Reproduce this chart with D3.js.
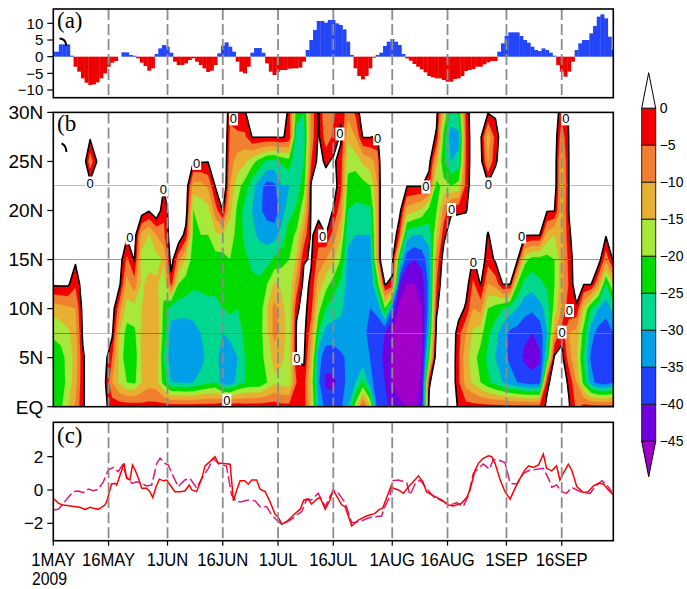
<!DOCTYPE html>
<html><head><meta charset="utf-8">
<script src="https://cdn.jsdelivr.net/npm/d3@7"></script>
<style>
body{margin:0;background:#fff}
text{font-family:"Liberation Sans",Arial,sans-serif;fill:#000}
.serif{font-family:"Liberation Serif","Times New Roman",serif}
</style></head><body>
<svg id="chart" width="687" height="589"></svg>
<script>
// ---------------- data ----------------
// days counted from 1 May 2009
const tickDays   = [0, 15, 31, 46, 61, 76, 92, 107, 123, 138];
const tickLabels = ["1MAY","16MAY","1JUN","16JUN","1JUL","16JUL","1AUG","16AUG","1SEP","16SEP"];

// (a) daily index, 1 May .. 30 Sep
const indexA = [
  1.5, 1.5, 3.7, 3.7, 3.7, 0.3, -3, -4.5, -6.5, -7.8,
  -8.5, -8.3, -7.7, -6.5, -5, -3, -1.8, -1.3, 0, 1.3,
  1.3, 0.5, 0.3, -0.5, -1.8, -2.8, -4.2, -3.5, 0.8, 2.5,
  3.5, 3, 1.2, -1.5, -2.5, -2.5, -2, -1, -0.5, -1.5,
  -2.5, -3.5, -4.6, -4.2, -2.5, 1, 3.3, 4.3, 3, 1.5,
  -1.5, -4.5, -5, -3, 1.2, 2.6, 2.6, 1.2, -2, -4.5,
  -5.5, -4.5, -4, -4, -3.6, -3.5, -3.5, -3.3, -1.5, 2,
  5, 8, 10.7, 10.7, 10.2, 11, 11, 10, 9.5, 8.2,
  4.5, 0.5, -3.5, -5.8, -6.8, -5.8, -3.5, -0.3, 0.5, 1.2,
  3.2, 4.5, 5.3, 4.5, 3.5, 0.8, -0.5, -1.2, -2.2, -3,
  -3.8, -4.7, -5.8, -6.2, -6.5, -6.5, -7, -7.5, -7.5, -6.7,
  -6.5, -5.8, -4.3, -4, -3.7, -3, -3, -2.3, -1.7, -1.3,
  -1.3, 1.5, 4, 6.3, 7.3, 7.3, 7.3, 6.2, 5, 4.2,
  3, 2, 1.7, 2.5, 2, 1.2, 0.3, -2.5, -4.5, -6,
  -4.5, -1.5, 2, 4, 5, 5, 7, 9.2, 12, 12.7,
  11.5, 6, 2
];

// (b) time-latitude anomaly field: one row per day, columns are latitudes
const fieldDays = [0,2,4,6,8,10,12,14,16,18,20,22,24,26,28,30,32,34,36,38,40,42,44,46,48,50,
  52,54,56,58,60,62,64,66,68,70,72,74,76,78,80,82,84,86,88,90,92,94,96,98,100,102,104,106,
  108,110,112,114,116,118,120,122,124,126,128,130,132,134,136,138,140,142,144,146,148,150,152];
const fieldLats = [0,2.5,5,7.5,10,12.5,15,17.5,20,22.5,25,27.5,30];
const field = [
  [-21,-23,-23,-19,-13,1,4,5,5,5,5,5,5],
  [-21,-23,-22,-18,-12,1,4,5,5,5,5,5,5],
  [-15,-18,-18,-16,-11,1,3,5,5,5,5,5,5],
  [-9,-12,-13,-12,-10,-4,1,5,5,5,5,5,5],
  [-1,-1,-1,1,2,3,3,5,5,5,5,5,5],
  [4,4,4,4,4,4,4,4,4,2.5,-8,1,4],
  [3,3,3,4,4,4,4,4,4,4,1,4,4],
  [1,1,2,3,4,4,4,4,4,4,4,4,4],
  [-2,-10,-5,1,3,4,4,4,4,4,4,4,4],
  [-2,-16,-17,-15,-8,1,3,4,4,4,4,4,4],
  [-2,-20,-23,-22,-17,-12,-6,1,4,4,4,4,4],
  [-2,-21,-23,-21,-17,-7,0.5,3,4,4,4,4,4],
  [-3,-15,-14,-14,-15,-16,-17,-12,3,4,4,4,4],
  [-3,-12,-11,-11,-12,-13,-17,-15,0.5,3,4,4,4],
  [-3,-13,-11,-11,-12,-14,-17,-10,5,4,4,4,4],
  [-2,-22,-25,-22,-21,-18,-14,-6,-4,0.5,3,4,4],
  [-2,-30,-33,-32,-28,-3,3,4,4,4,4,4,4],
  [-2,-30,-34,-33,-28,-20,-8,4,4,4,4,4,4],
  [-2,-31,-34,-33,-28,-22,-16,-2,3,4,4,4,4],
  [-2,-30,-33,-32,-28,-24,-22,-21,-20,-12,0.5,3,4],
  [-2,-28,-32,-30,-27,-24,-22,-20,-18,-12,0.5,3,4],
  [-2,-26,-28,-28,-26,-24,-22,-20,-17,-9,0.2,3,4],
  [-2,-25,-28,-28,-26,-24,-22,-16,-7,0.5,3,4,4],
  [0.3,-33,-33,-30,-25,-24,-22,-15,0.3,8,8,8,8],
  [-1,-33,-34,-28,-24,-22,-20,-17,-14,-10,-8,-6,-4],
  [-1,-28,-30,-27,-25,-24,-23,-22,-21,-18,-12,-6,-2],
  [-2,-25,-25,-24,-23,-23,-24,-26,-27,-22,-14,-6,-0.5],
  [-2,-24,-23,-23,-23,-24,-26,-29,-30,-28,-18,0.3,4],
  [-2,-24,-22,-22,-23,-24,-27,-31,-34,-33,-22,0.3,4],
  [-2,-20,-18,-16,-15,-20,-27,-32,-37,-37,-26,0.3,4],
  [-2,-16,-13,-8,-8,-14,-24,-32,-38,-36,-27,0.3,4],
  [-3,-17,-14,-12,-13,-16,-22,-28,-32,-30,-24,0.5,6],
  [-3,-18,-17,-18,-18,-19,-20,-22,-27,-30,-22,-1,-2],
  [-3,-5,0.5,1,-1,-8,-14,-19,-24,-28,-30,-28,-22],
  [-2,-2,1,2,2,2,-0.5,-8,-16,-22,-25,-27,-25],
  [-14,-16,-12,-8,-3,-1,0.5,1,1,1,-5,-8,-8],
  [-30,-34,-33,-25,-18,-12,-7,-3,2,3,2,1,0.5],
  [-37,-41,-38,-32,-25,-18,-10,0,3,3,-1,-8,-10],
  [-38,-41,-38,-32,-28,-22,-14,-7,-0.3,3,1,-4,-6],
  [-36,-38,-36,-32,-29,-26,-20,-14,-8,-3,-2,1,-1],
  [-30,-33,-34,-33,-32,-32,-31,-29,-25,-22,-18,-14,-8],
  [-18,-30,-33,-33,-33,-33,-32,-30,-26,-23,-18,-10,-4],
  [-3,-24,-33,-34,-34,-33,-32,-30,-26,-22,-14,0.3,4],
  [-14,-33,-35,-36,-35,-34,-33,-30,-26,-20,-12,0.3,6],
  [-37,-38,-38,-37,-34,-22,-10,-10,-10,-10,-8,-1,10],
  [-38,-40,-41,-40,-20,0.3,18,18,18,18,18,18,18],
  [-42,-45,-46,-45,-35,-1,2,6,8,8,8,8,8],
  [-44,-47,-48,-48,-47,-40,-25,-5,2,4,4,4,4],
  [-45,-48,-49,-49,-48,-45,-38,-28,-12,0.2,4,4,4],
  [-46,-48,-49,-49,-48,-45,-40,-30,-14,0.2,4,4,4],
  [-42,-44,-45,-46,-45,-43,-38,-30,-16,0.2,4,4,4],
  [2.2,-1,-20,-28,-32,-33,-32,-28,-22,-3,2,4,4],
  [5,5,5,2,-1,-5,-8,-15,-20,-22,-12,-1,2],
  [5,5,5,5,5,5,3,-1.5,-8,-18,-24,-22,-15],
  [5,5,5,5,5,5,5,4,-1,-20,-30,-33,-26],
  [-1,-4,-4,-3,3,5,5,5,-1,-18,-28,-32,-24],
  [-3,-12,-13,-10,-1,3,4,5,-0.5,-3,-4,-4,-3],
  [-3,-16,-18,-16,-10,-6,-0.5,4,4,4,4,4,4],
  [-3,-20,-22,-18,-8,0.5,4,4,4,4,2,1,4],
  [-3,-24,-26,-24,-20,-10,-3,-0.5,4,1.5,-10,-13,0.5],
  [-3,-27,-30,-28,-22,-8,1,4,4,4,-1,-3,1],
  [-3,-30,-33,-33,-25,0.2,4,4,4,4,4,4,4],
  [-3,-33,-36,-36,-28,0.2,4,4,4,4,4,4,4],
  [-3,-35,-38,-37,-30,-20,0.5,4,4,4,4,4,4],
  [-3,-37,-41,-39,-33,-27,-18,0.3,4,4,4,4,4],
  [-3,-38,-42,-40,-34,-28,-22,0.3,4,4,4,4,4],
  [-3,-37,-41,-38,-32,-26,-22,0.3,4,4,4,4,4],
  [1,-1,-25,-30,-28,-24,-22,-12,0.5,4,4,4,4],
  [3,2,1,-10,-18,-20,-20,-15,0.3,4,4,4,4],
  [3,3,2,-2,-10,-12,-12,-12,-12,-13,-12,-8,-3],
  [0.5,-1,-8,-10,-1,-4,-3,-1,0.5,0.5,0.5,0.5,0.5],
  [-6,-10,-14,-12,-1,4,4,4,4,4,4,4,4],
  [-3,-22,-25,-22,-15,0.3,4,4,4,4,4,4,4],
  [-3,-33,-36,-33,-25,0.3,4,4,4,4,4,4,4],
  [-3,-37,-39,-37,-30,-10,3,4,4,4,4,4,4],
  [-3,-38,-40,-38,-33,-25,-8,0.5,4,4,4,4,4],
  [-3,-35,-38,-35,-28,-15,1,4,4,4,4,4,4]
];
const levelValues = [0,-5,-10,-15,-20,-25,-30,-35,-40,-45];
const levelColors = ["#f00000","#f08030","#e8b030","#a8e83a","#00dc00","#00d890","#00a0e8","#2040ff","#7000e0","#a000c8"];
// positions of the "0" contour labels
const zeroLabelDays = [10, 20.8, 29.9, 38.9, 48.9, 47.1, 66.1, 73.1, 77.8, 88, 101.1, 108.1, 118.1, 114, 127.1, 139.1, 140.1, 138.1];
const zeroLabelLats = [22.8, 17.2, 22.1, 24.8, 29.7, 0.3, 4.9, 17.4, 27.8, 27.3, 22.4, 20.1, 22.7, 14.7, 17.3, 29.5, 9.8, 7.6];
const refLats = [7.5, 15, 22.5];

// (c) two indices
const solidDays = [0,1.4,2.7,7.2,8.6,10,10.9,12.2,14,14.5,15.8,16.7,17.2,18.6,19.2,19.9,20.8,21.5,22.2,23.1,24,25.3,26.2,27,27.9,28.8,29.9,30.8,31.7,33,34.4,35.7,36.9,37.6,38.9,40.3,41.2,42.5,43.9,44.8,45.7,48,48.9,49.8,50.7,52,52.9,53.9,55.2,56.1,57.5,58.8,60.2,61.1,62,63.3,65.2,67,68,69.2,70.1,71.5,72.4,73.8,75.1,76,77,78.3,79.2,81,82.8,85,87.3,88.5,89.4,90.5,91.8,92.3,93.7,95,96.4,97.7,99.1,100.3,101.3,103.2,105.4,107.2,108.6,110.8,112.2,113.1,114.5,115.4,116.7,118.1,119,119.9,121.3,122.6,124,125.3,126.7,128,129,130.3,131.7,133,133.9,135.3,136.6,137.5,138.4,139.8,140.7,142.1,143.9,145.2,146.6,148,149.3,150.7,152];
const solidVals = [-0.5,-0.8,-0.9,-1.04,-1.16,-1.04,-1.1,-1.16,-0.9,-0.7,0.36,0.4,0.3,1.2,1.6,0.7,0.6,1.5,1.2,0.7,0.1,0.1,-0.1,-0.45,0.2,0.65,0.55,0.6,0.3,-0.1,-0.1,-0.06,0.3,0,-0.1,0.7,1.45,1.7,2.0,1.6,1.6,1.55,-0.65,0,0.55,0.55,0.35,0.6,0.6,0.05,-0.1,-0.7,-1.45,-1.65,-2.05,-1.9,-1.5,-1.15,-0.6,-0.55,-0.85,-0.55,-0.45,-1.15,-0.6,0,-0.4,-0.9,-1.0,-2.16,-1.8,-1.56,-1.4,-1.16,-1.1,-0.45,0.3,0.1,0,-0.2,0.2,0.5,0.85,0.5,-0.1,-0.35,-0.6,-0.9,-0.96,-0.8,-0.45,0,1.2,1.6,1.9,2.05,2.0,1.6,0.6,-0.1,-0.55,0.1,0.7,1.2,1.45,1.35,1.5,2.15,1.3,1.15,1.45,0.6,1.0,1.55,1.2,0.2,-0.15,-0.1,0.25,0.4,0.36,0,-0.3];
const dashDays = [0,1.4,2.7,4.1,5.4,6.8,8.1,9.5,10.9,12.2,13.6,14.9,16.3,17.6,18.8,19.9,21.3,22.6,24,25.3,26.7,28.1,29,30.3,31.2,32.6,33.9,35.7,37.1,38.9,40.3,42.1,43.4,45.2,47,48.4,49.8,51.1,52.9,54.8,56.1,57.9,59.3,60.6,62,64.3,66.1,67.4,68.8,70.1,71.9,73.8,75.1,76,77.4,79.2,81,83.2,86,89.1,90,91.4,92.1,93.7,95.9,96.8,98.2,99.5,101.3,103.2,105.9,107.7,109.5,111.3,112.7,114,115.4,116.7,118.4,119.4,120.8,122.6,124,125.8,127.6,129.4,131.2,133,134.4,135.3,136.6,138,139.3,140.7,142.1,143.9,145.7,147,148.9,150.2,151.6];
const dashVals = [-1.2,-1.16,-0.8,-0.44,-0.1,-0.06,-0.16,0.06,-0.04,0.04,0.5,1.2,1.36,1.1,1.5,0.8,0.4,0.5,0.4,0.24,0.3,1.6,1.9,1.6,1.5,0.8,0.2,0.6,0.7,0.1,0.7,1.3,1.9,1.5,1.45,-0.3,-0.7,-0.7,-0.6,-0.65,-1.0,-1.0,-1.5,-1.8,-2.05,-1.8,-1.5,-1.3,-0.55,-0.6,-0.2,-1.0,-0.4,0,-0.2,-0.76,-1.96,-1.9,-1.64,-1.56,-1.0,-0.36,0.56,0.6,0.44,-0.3,0.36,0.6,0.1,-0.4,-0.7,-0.9,-0.76,-1.0,-0.3,1.0,1.3,1.56,1.24,1.84,1.8,1.64,0.4,0.36,1.0,1.2,1.24,1.3,0.7,0.16,0.3,-0.1,-0.2,0.16,0,-0.16,-0.2,0.2,0.56,0.3,-0.1];

// ---------------- layout ----------------
const svg = d3.select("#chart");
svg.append("rect").attr("width",687).attr("height",589).attr("fill","#fff");
const L = 53.3, R = 613.3;
const x = d3.scaleLinear().domain([0,152]).range([L,R]);
const pA = {top:9, bottom:97.7}, pB = {top:112.4, bottom:406.7}, pC = {top:422.3, bottom:540.7};
const yA = d3.scaleLinear().domain([-12.3,14.3]).range([pA.bottom,pA.top]);
const yB = d3.scaleLinear().domain([0,30]).range([pB.bottom,pB.top]);
const yC = d3.scaleLinear().domain([-3.04,4.06]).range([pC.bottom,pC.top]);

function clip(id,p){
  svg.append("clipPath").attr("id",id).append("rect")
    .attr("x",L).attr("y",p.top).attr("width",R-L).attr("height",p.bottom-p.top);
}
clip("clipA",pA); clip("clipB",pB); clip("clipC",pC);

function dashedDays(p){
  svg.append("g").selectAll("line").data(tickDays.slice(1)).join("line")
    .attr("x1",d=>x(d)).attr("x2",d=>x(d)).attr("y1",p.top).attr("y2",p.bottom)
    .attr("stroke","#8c8c8c").attr("stroke-width",1.8).attr("stroke-dasharray","11,4");
}
function frame(p){
  svg.append("rect").attr("x",L).attr("y",p.top).attr("width",R-L).attr("height",p.bottom-p.top)
    .attr("fill","none").attr("stroke","#000").attr("stroke-width",1.6);
}
function yTicks(scale, vals, labels, size){
  const g = svg.append("g");
  g.selectAll("line").data(vals).join("line")
    .attr("x1",L-6).attr("x2",L).attr("y1",d=>scale(d)).attr("y2",d=>scale(d))
    .attr("stroke","#000").attr("stroke-width",1.2);
  g.selectAll("text").data(vals).join("text")
    .attr("x",L-10).attr("y",d=>scale(d)+size*0.36).attr("text-anchor","end")
    .attr("font-size",size).text((d,i)=>labels[i]);
}

// ---------------- (a) ----------------
const gA = svg.append("g").attr("clip-path","url(#clipA)");
gA.selectAll("rect").data(indexA).join("rect")
  .attr("x",(d,i)=>x(i-0.5)).attr("width",x(1)-x(0)+0.3)
  .attr("y",d=>yA(Math.max(0,d))).attr("height",d=>Math.abs(yA(d)-yA(0)))
  .attr("fill",d=>d<0?"#ee0000":"#2346f8");
dashedDays(pA); frame(pA);
yTicks(yA,[10,5,0,-5,-10],["10","5","0","\u22125","\u221210"],15);
svg.append("text").attr("class","serif").attr("x",57).attr("y",28).attr("font-size",23).text("(a)");
svg.append("path").attr("d","M59.5,38.5 Q65.5,38.5 66.5,46").attr("fill","none").attr("stroke","#000").attr("stroke-width",2);

// ---------------- (b) ----------------
const nx = fieldDays.length, ny = fieldLats.length;
const grid = new Array(nx*ny);
for (let j=0;j<ny;j++) for (let i=0;i<nx;i++) grid[j*nx+i] = -field[i][j];
const contourSets = d3.contours().size([nx,ny]).thresholds(levelValues.map(v=>-v))(grid);
const dStep = fieldDays[1]-fieldDays[0], lStep = fieldLats[1]-fieldLats[0];
const toPlot = d3.geoTransform({point(px,py){
  this.stream.point(x(fieldDays[0]+(px-0.5)*dStep), yB(fieldLats[0]+(py-0.5)*lStep));
}});
const cPath = d3.geoPath(toPlot);
const gB = svg.append("g").attr("clip-path","url(#clipB)");
gB.selectAll("path.band").data(contourSets).join("path").attr("class","band")
  .attr("d",cPath).attr("fill",(d,i)=>levelColors[i]).attr("stroke",(d,i)=>levelColors[i]).attr("stroke-width",0.3);
// reference latitudes: warm tone over blank areas, cool tone where shaded
const refY = d => Math.floor(yB(d)) + 0.5;
svg.append("clipPath").attr("id","clipShaded").append("path").attr("d",cPath(contourSets[0]));
gB.selectAll("line.refw").data(refLats).join("line").attr("class","refw")
  .attr("x1",L).attr("x2",R).attr("y1",refY).attr("y2",refY)
  .attr("stroke",d=>d===15?"#e3884a":"#f2ad8e").attr("stroke-width",1);
gB.append("g").attr("clip-path","url(#clipShaded)").selectAll("line").data(refLats).join("line")
  .attr("x1",L).attr("x2",R).attr("y1",refY).attr("y2",refY)
  .attr("stroke",d=>d===15?"#3a6cc0":"#4f7ec4").attr("stroke-width",1);
gB.append("path").attr("d",cPath(contourSets[0])).attr("fill","none")
  .attr("stroke","#000").attr("stroke-width",1.6).attr("stroke-linejoin","round");
dashedDays(pB);
const gL = svg.append("g");
const lab = gL.selectAll("g").data(zeroLabelDays).join("g")
  .attr("transform",(d,i)=>`translate(${x(d)},${Math.max(pB.top+6.5,Math.min(pB.bottom-6.5,yB(zeroLabelLats[i])))})`);
lab.append("rect").attr("x",-4.5).attr("y",-6.5).attr("width",9).attr("height",13).attr("fill","#fff");
lab.append("text").attr("text-anchor","middle").attr("y",4.5).attr("font-size",13).text("0");
frame(pB);
yTicks(yB,[30,25,20,15,10,5,0],["30N","25N","20N","15N","10N","5N","EQ"],19);
svg.append("text").attr("class","serif").attr("x",57).attr("y",131).attr("font-size",23).text("(b");
svg.append("path").attr("d","M61.5,143.5 Q66,145 66.5,152").attr("fill","none").attr("stroke","#000").attr("stroke-width",2);

// ---------------- (c) ----------------
const gC = svg.append("g").attr("clip-path","url(#clipC)");
const lineGen = (ds,vs)=>d3.line().x((d,i)=>x(ds[i])).y((d,i)=>yC(vs[i]))(vs);
gC.append("path").attr("d",lineGen(dashDays,dashVals)).attr("fill","none")
  .attr("stroke","#e0177a").attr("stroke-width",1.5).attr("stroke-dasharray","11,3.5");
gC.append("path").attr("d",lineGen(solidDays,solidVals)).attr("fill","none")
  .attr("stroke","#ff0000").attr("stroke-width",1.5);
dashedDays(pC); frame(pC);
yTicks(yC,[2,0,-2],["2","0","\u22122"],17);
svg.append("text").attr("class","serif").attr("x",57).attr("y",443).attr("font-size",23).text("(c)");
// time axis
const gX = svg.append("g");
gX.selectAll("line").data(tickDays).join("line")
  .attr("x1",d=>x(d)).attr("x2",d=>x(d)).attr("y1",pC.bottom).attr("y2",pC.bottom+5)
  .attr("stroke","#000").attr("stroke-width",1.2);
gX.selectAll("text").data(tickDays).join("text")
  .attr("transform",d=>`translate(${x(d)},566) scale(0.9,1)`)
  .attr("text-anchor","middle").attr("font-size",18.5).text((d,i)=>tickLabels[i]);
svg.append("text").attr("transform","translate(32,584.5) scale(0.9,1)").attr("font-size",17.5).text("2009");

// ---------------- colour bar ----------------
const cbX = 641.7, cbW = 14, cbTop = 108.3, cbH = 37;
const gK = svg.append("g");
gK.append("path").attr("d",`M${cbX},${cbTop} L${cbX+cbW/2},72.7 L${cbX+cbW},${cbTop} Z`)
  .attr("fill","#fff").attr("stroke","#000").attr("stroke-width",1);
gK.selectAll("rect").data(levelColors.slice(0,9)).join("rect")
  .attr("x",cbX).attr("y",(d,i)=>cbTop+i*cbH).attr("width",cbW).attr("height",cbH)
  .attr("fill",d=>d).attr("stroke","#222").attr("stroke-width",1);
gK.append("path").attr("d",`M${cbX},${cbTop+9*cbH} L${cbX+cbW/2},476.7 L${cbX+cbW},${cbTop+9*cbH} Z`)
  .attr("fill",levelColors[9]).attr("stroke","#000").attr("stroke-width",1);
gK.selectAll("text").data(levelValues).join("text")
  .attr("x",cbX+cbW+4).attr("y",(d,i)=>cbTop+i*cbH+5).attr("font-size",14)
  .text(d=>d===0?"0":"\u2212"+Math.abs(d));
</script></body></html>
